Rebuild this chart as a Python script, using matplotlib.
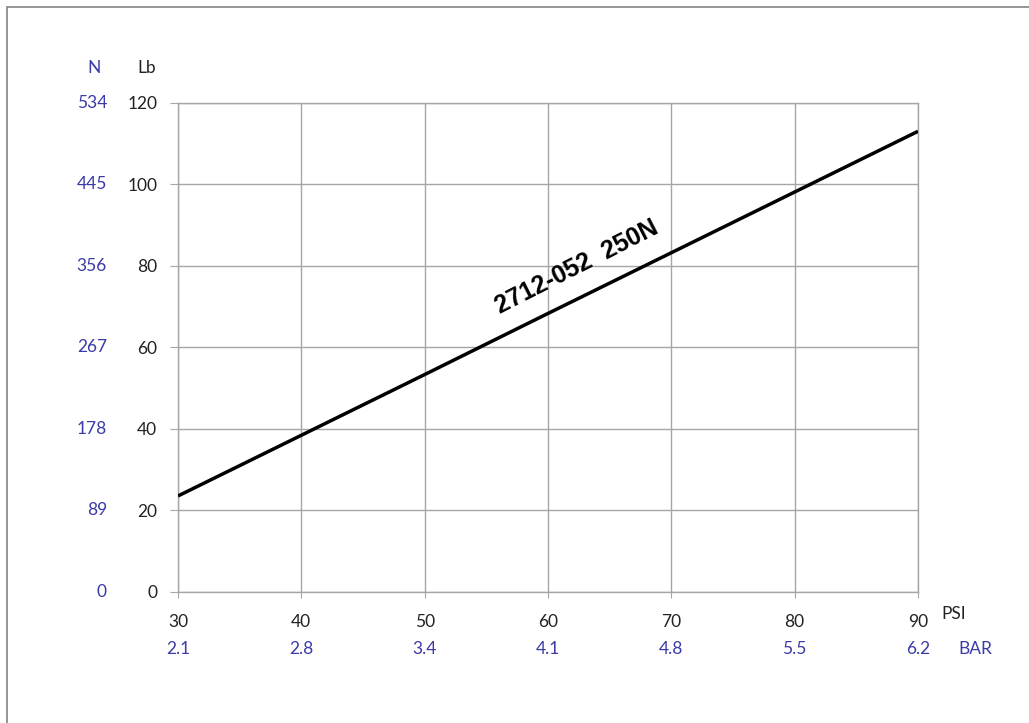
import matplotlib.pyplot as plt
import matplotlib.transforms as mtransforms
from matplotlib.patches import Rectangle

plt.rcParams['font.family'] = ['Lato', 'DejaVu Sans']

# data
psi = [30, 40, 50, 60, 70, 80, 90]
force_lb = [23.5, 38.4, 53.3, 68.3, 83.2, 98.1, 113.0]
lb_ticks = [0, 20, 40, 60, 80, 100, 120]
n_labels = ['0', '89', '178', '267', '356', '445', '534']
bar_labels = ['2.1', '2.8', '3.4', '4.1', '4.8', '5.5', '6.2']
series_name = '2712-052  250N'

blue = '#3a3aa8'
grid_c = '#a6a6a6'
fs = 12.5

fig = plt.figure(figsize=(10.29, 7.23), dpi=100)
ax = fig.add_axes([0.1730, 0.1816, 0.7191, 0.6762])

# outer frame of the picture
fig.patches.append(Rectangle((0.0068, -0.1), 1.2, 1.09, transform=fig.transFigure,
                             fill=False, edgecolor='#8c8c8c', lw=1.3))

ax.plot(psi, force_lb, color='black', lw=2.5, solid_capstyle='butt', zorder=3)

ax.set_xlim(30, 90)
ax.set_ylim(0, 120)
ax.set_xticks(psi)
ax.set_yticks(lb_ticks)
ax.grid(True, color=grid_c, lw=1.0)
for s in ax.spines.values():
    s.set_color(grid_c)
    s.set_linewidth(1.0)
ax.tick_params(axis='y', length=6, color=grid_c, pad=9, labelsize=fs, labelcolor='#222222')
ax.tick_params(axis='x', length=4, color=grid_c, pad=12, labelsize=fs, labelcolor='#222222')

# N scale on the left, BAR scale under the PSI one
ytr = mtransforms.blended_transform_factory(ax.transAxes, ax.transData)
for y, lab in zip(lb_ticks, n_labels):
    ax.text(-0.096, y, lab, transform=ytr, ha='right', va='center',
            color=blue, fontsize=fs)
xtr = mtransforms.blended_transform_factory(ax.transData, ax.transAxes)
for x, lab in zip(psi, bar_labels):
    ax.text(x, -0.117, lab, transform=xtr, ha='center', va='center',
            color=blue, fontsize=fs)

ax.text(-0.1135, 1.071, 'N', transform=ax.transAxes, ha='center', va='center',
        color=blue, fontsize=fs)
ax.text(-0.042, 1.071, 'Lb', transform=ax.transAxes, ha='center', va='center',
        color='#222222', fontsize=fs)
ax.text(1.032, -0.0446, 'PSI', transform=ax.transAxes, ha='left', va='center',
        color='#222222', fontsize=fs)
ax.text(1.054, -0.117, 'BAR', transform=ax.transAxes, ha='left', va='center',
        color=blue, fontsize=fs)

ax.text(62.3, 79.6, series_name, rotation=27, rotation_mode='anchor',
        ha='center', va='center', fontsize=18, fontweight='bold',
        family=['Liberation Sans Narrow', 'Liberation Sans', 'DejaVu Sans'])

fig.savefig('out.png', dpi=100)
